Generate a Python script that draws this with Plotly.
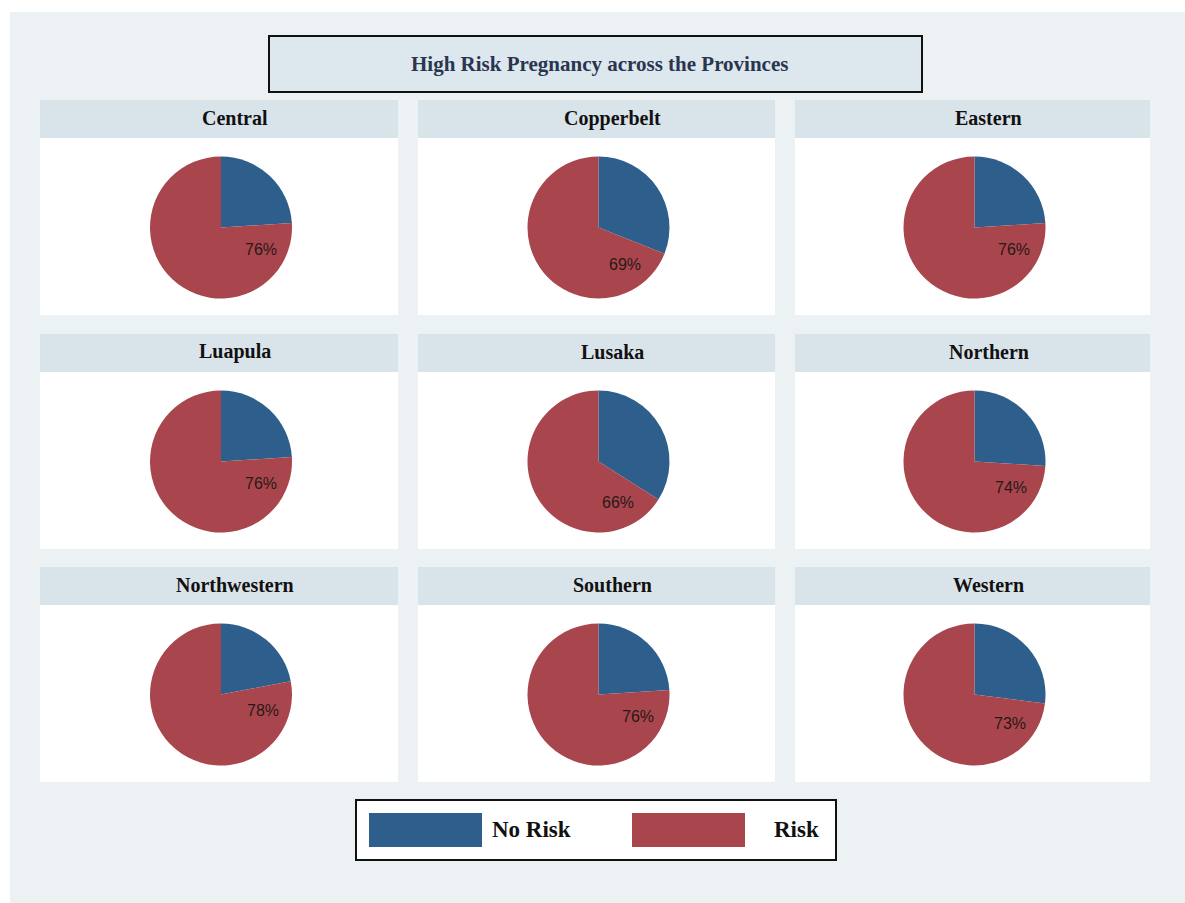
import math
import plotly.graph_objects as go

# Share of pregnancies by risk status in each province (percent)
provinces = ["Central", "Copperbelt", "Eastern",
             "Luapula", "Lusaka", "Northern",
             "Northwestern", "Southern", "Western"]
risk_pct = [76, 69, 76, 76, 66, 74, 78, 76, 73]
no_risk_pct = [100 - v for v in risk_pct]
categories = ["No Risk", "Risk"]
title_text = "High Risk Pregnancy across the Provinces"

W, H = 1185, 903
BLUE = "#2e5f8c"
RED = "#a9464d"
BG = "#ecf1f4"
STRIP = "#d9e3ea"
SERIF = "Liberation Serif, Times New Roman, serif"


def px(x):
    return x / W


def py(y):
    return 1 - y / H


fig = go.Figure()
shapes = []
annotations = []

# page background
shapes.append(dict(type="rect", xref="paper", yref="paper",
                   x0=px(10), x1=px(W), y0=py(H), y1=py(12),
                   fillcolor=BG, line=dict(width=0), layer="below"))

col_x = [(40, 398), (418, 775), (795, 1150)]
row_top = [100, 334, 567]
strip_h = 38
plot_h = 177
radius = 71

for i, name in enumerate(provinces):
    r, c = divmod(i, 3)
    x0, x1 = col_x[c]
    top = row_top[r]
    # title strip
    shapes.append(dict(type="rect", xref="paper", yref="paper",
                       x0=px(x0), x1=px(x1), y0=py(top + strip_h), y1=py(top),
                       fillcolor=STRIP, line=dict(width=0), layer="below"))
    # white plot region
    shapes.append(dict(type="rect", xref="paper", yref="paper",
                       x0=px(x0), x1=px(x1), y0=py(top + strip_h + plot_h),
                       y1=py(top + strip_h),
                       fillcolor="white", line=dict(width=0), layer="below"))
    annotations.append(dict(text="<b>%s</b>" % name, xref="paper", yref="paper",
                            x=px((x0 + x1) / 2 + 16), y=py(top + strip_h / 2 - 1),
                            showarrow=False, xanchor="center", yanchor="middle",
                            font=dict(family=SERIF, size=20, color="#111111")))

    cx = (x0 + x1) / 2 + 2
    cy = top + strip_h + plot_h / 2 + 1
    fig.add_trace(go.Pie(
        labels=categories,
        values=[no_risk_pct[i], risk_pct[i]],
        marker=dict(colors=[BLUE, RED], line=dict(width=0)),
        sort=False, direction="clockwise", rotation=0,
        textinfo="none", hole=0, showlegend=False,
        domain=dict(x=[px(cx - radius), px(cx + radius)],
                    y=[py(cy + radius), py(cy - radius)]),
    ))

    # percentage label, placed just past the boundary between the slices
    boundary = no_risk_pct[i] / 100 * 360
    ang = math.radians(boundary + 32)
    lr = 0.64 * radius
    lx = cx + lr * math.sin(ang)
    ly = cy - lr * math.cos(ang)
    annotations.append(dict(text="%d%%" % risk_pct[i], xref="paper", yref="paper",
                            x=px(lx), y=py(ly), showarrow=False,
                            xanchor="center", yanchor="middle",
                            font=dict(family="Liberation Sans, Arial, sans-serif",
                                      size=16, color="#2a1818")))

# title box
shapes.append(dict(type="rect", xref="paper", yref="paper",
                   x0=px(269), x1=px(922), y0=py(92), y1=py(36),
                   fillcolor="#dde7ee", line=dict(color="#111111", width=2)))
annotations.append(dict(text="<b>%s</b>" % title_text, xref="paper", yref="paper",
                        x=px(599), y=py(64), showarrow=False,
                        xanchor="center", yanchor="middle",
                        font=dict(family=SERIF, size=21, color="#2a3550")))

# legend box
shapes.append(dict(type="rect", xref="paper", yref="paper",
                   x0=px(356), x1=px(836), y0=py(860), y1=py(800),
                   fillcolor="white", line=dict(color="#111111", width=2)))
legend_items = [(categories[0], BLUE, 369, 490), (categories[1], RED, 632, 772)]
for lab, colr, sx, tx in legend_items:
    shapes.append(dict(type="rect", xref="paper", yref="paper",
                       x0=px(sx), x1=px(sx + 113), y0=py(847), y1=py(813),
                       fillcolor=colr, line=dict(width=0)))
    annotations.append(dict(text="<b>%s</b>" % lab, xref="paper", yref="paper",
                            x=px(tx), y=py(829), showarrow=False,
                            xanchor="left", yanchor="middle",
                            font=dict(family=SERIF, size=23, color="#111111")))

fig.update_layout(
    width=W, height=H,
    margin=dict(l=0, r=0, t=0, b=0),
    paper_bgcolor="white",
    plot_bgcolor="white",
    shapes=shapes,
    annotations=annotations,
    showlegend=False,
)

fig.write_html("out.html")
